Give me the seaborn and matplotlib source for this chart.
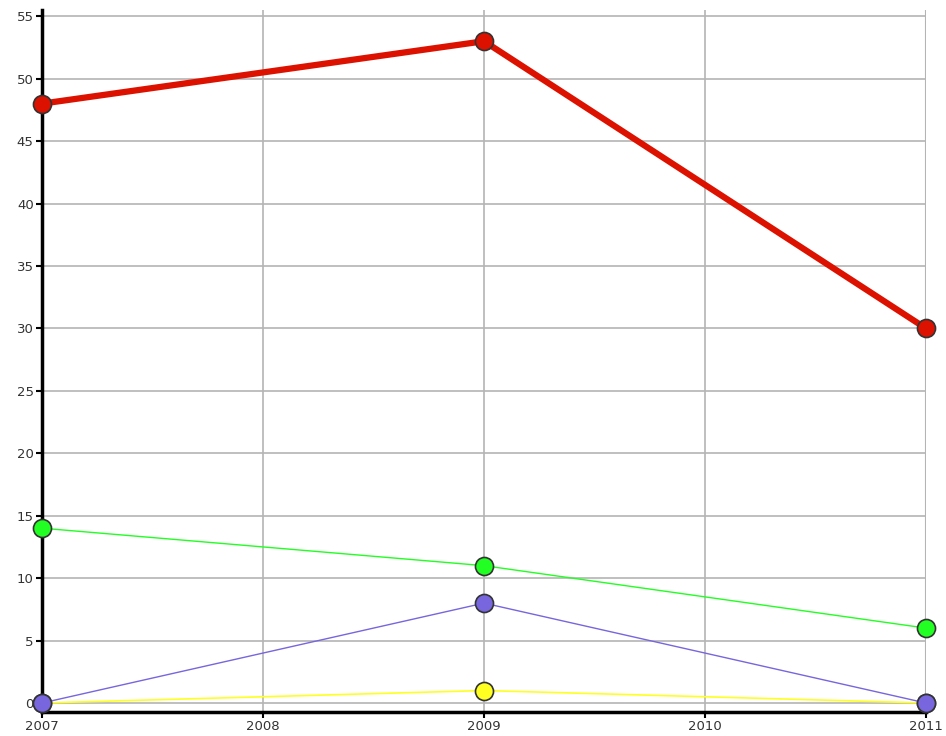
import pandas as pd
import numpy as np
import matplotlib
matplotlib.use('Agg')
import matplotlib.pyplot as plt
import seaborn as sns

# data
years = [2007, 2009, 2011]
red_vals = [48, 53, 30]
green_vals = [14, 11, 6]
purple_vals = [0, 8, 0]
yellow_vals = [0, 1, 0]

series = {
    'red': (red_vals, '#dd1100', 4.5),
    'green': (green_vals, '#22ff22', 1.0),
    'purple': (purple_vals, '#7766dd', 1.0),
    'yellow': (yellow_vals, '#ffff22', 1.2),
}

sns.set_style('white')
plt.rcParams['font.family'] = ['DejaVu Sans']

fig = plt.figure(figsize=(9.46, 7.36), dpi=100)
ax = fig.add_axes([42 / 946, 24 / 736, 884 / 946, 702 / 736])

# draw order: thin lines under, red on top
for name in ['yellow', 'purple', 'green', 'red']:
    vals, col, lw = series[name]
    df = pd.DataFrame({'year': years, 'value': vals})
    sns.lineplot(data=df, x='year', y='value', ax=ax, color=col, linewidth=lw,
                 marker='o', markersize=13, markeredgecolor='#333333',
                 markeredgewidth=1.2, zorder=5 if name == 'red' else 4, clip_on=False)

ax.set_xlim(2007, 2011)
ax.set_ylim(-0.72, 55.5)
ax.set_xticks([2007, 2008, 2009, 2010, 2011])
ax.set_yticks(np.arange(0, 56, 5))
ax.set_xlabel('')
ax.set_ylabel('')

ax.grid(True, color='#b4b4b4', linewidth=1.2)
ax.set_axisbelow(True)
for s in ['top', 'right']:
    ax.spines[s].set_visible(False)
for s in ['left', 'bottom']:
    ax.spines[s].set_color('black')
    ax.spines[s].set_linewidth(2.5)

ax.tick_params(axis='both', direction='out', length=4, width=1.5, color='black',
               labelsize=9.5, labelcolor='#333333', pad=2, left=True, bottom=True)

# vertical gridline at right edge
ax.axvline(2011, color='#b4b4b4', linewidth=1.5, zorder=0)

fig.savefig('out.png', dpi=100)
